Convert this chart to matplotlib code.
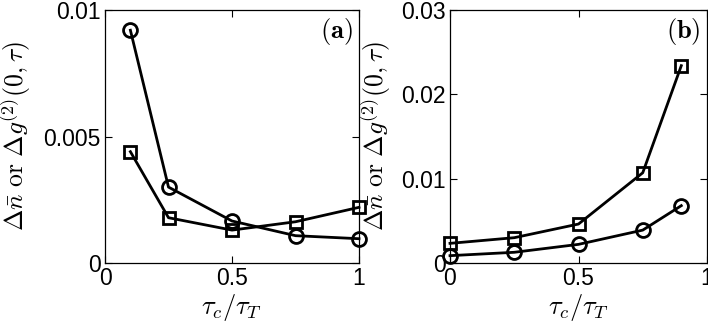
import matplotlib
matplotlib.use("Agg")
import matplotlib.pyplot as plt

plt.rcParams['mathtext.fontset'] = 'cm'
plt.rcParams['font.family'] = ['Liberation Sans', 'DejaVu Sans']

xa = [0.1, 0.25, 0.5, 0.75, 1.0]
a_circ = [0.0092, 0.0030, 0.00166, 0.00108, 0.00096]
a_sq = [0.0044, 0.00179, 0.0013, 0.00163, 0.0022]

xb = [0.0, 0.25, 0.5, 0.75, 0.9]
b_sq = [0.00233, 0.0030, 0.00462, 0.0107, 0.0234]
b_circ = [0.00087, 0.00127, 0.00221, 0.0039, 0.0068]

xticks = [0, 0.5, 1]
xticklabels = ['0', '0.5', '1']
a_yticks = [0, 0.005, 0.01]
a_yticklabels = ['0', '0.005', '0.01']
b_yticks = [0, 0.01, 0.02, 0.03]
b_yticklabels = ['0', '0.01', '0.02', '0.03']

W, H = 708, 327
fig = plt.figure(figsize=(W/100, H/100), dpi=100)
ax1 = fig.add_axes([105/W, 1-263/H, (359-105)/W, (263-10)/H])
ax2 = fig.add_axes([450/W, 1-263/H, (707-450)/W, (263-10)/H])

ylabel = r'$\Delta\bar{n}\ \mathrm{or}\ \Delta g^{(2)}(0,\tau)$'
xlabel = r'$\tau_c/\tau_T$'

def style(ax, yt, ytl, ylim, tag):
    ax.set_xlim(0, 1)
    ax.set_ylim(*ylim)
    ax.set_xticks(xticks)
    ax.set_xticklabels(xticklabels)
    ax.set_yticks(yt)
    ax.set_yticklabels(ytl)
    ax.tick_params(direction='in', top=True, right=True, labelsize=16.5,
                   length=5, width=0.8, pad=3)
    for s in ax.spines.values():
        s.set_linewidth(0.9)
    ax.set_xlabel(xlabel, fontsize=19, labelpad=1)
    ax.text(0.975, 0.915, tag, transform=ax.transAxes, ha='right', va='center',
            fontsize=19)

ax1.plot(xa, a_circ, '-o', color='k', lw=2, ms=10, mfc='none', mew=2, clip_on=False)
ax1.plot(xa, a_sq, '-s', color='k', lw=2, ms=8.5, mfc='none', mew=2, clip_on=False)
style(ax1, a_yticks, a_yticklabels, (0, 0.01), r'$\mathbf{(a)}$')
ax1.set_ylabel(ylabel, fontsize=18.5)
ax1.yaxis.set_label_coords(-72/254, 0.5)

ax2.plot(xb, b_sq, '-s', color='k', lw=2, ms=8.5, mfc='none', mew=2, clip_on=False)
ax2.plot(xb, b_circ, '-o', color='k', lw=2, ms=10, mfc='none', mew=2, clip_on=False)
style(ax2, b_yticks, b_yticklabels, (0, 0.03), r'$\mathbf{(b)}$')
ax2.set_ylabel(ylabel, fontsize=18.5)
ax2.yaxis.set_label_coords(-57/257, 0.5)

fig.savefig('out.png', dpi=100)
